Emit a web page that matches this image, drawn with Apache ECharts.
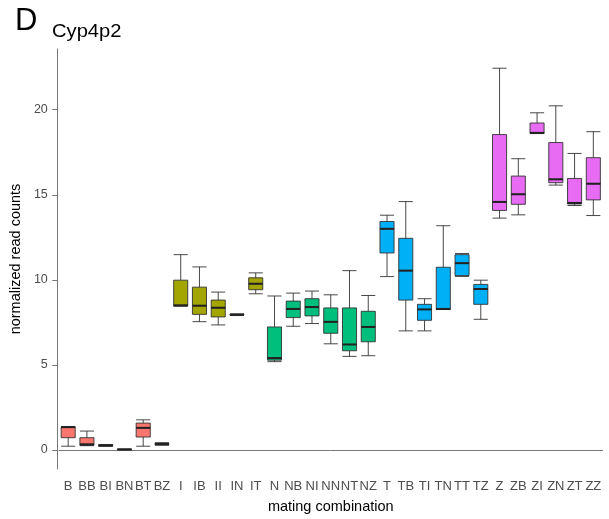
<!DOCTYPE html>
<html>
<head>
<meta charset="utf-8">
<script src="https://cdn.jsdelivr.net/npm/echarts@6/dist/echarts.min.js"></script>
<style>
html,body{margin:0;padding:0;background:#fff;}
#chart{width:609px;height:519px;}
</style>
</head>
<body>
<div id="chart"></div>
<script>
var categories = ['B','BB','BI','BN','BT','BZ','I','IB','II','IN','IT','N','NB','NI','NN','NT','NZ','T','TB','TI','TN','TT','TZ','Z','ZB','ZI','ZN','ZT','ZZ'];
var groups = ['B','B','B','B','B','B','I','I','I','I','I','N','N','N','N','N','N','T','T','T','T','T','T','Z','Z','Z','Z','Z','Z'];
var mins    = [0.22,0.25,0.22,0.00,0.22,0.27, 8.46,7.54,7.35,7.90,9.18, 5.19,7.27,7.43,6.24,5.50,5.54, 10.19,7.00,7.00,8.26,10.20,7.68, 13.63,13.82,18.60,15.57,14.37,13.78];
var q1s     = [0.72,0.27,0.22,0.02,0.76,0.33, 8.46,7.97,7.82,7.93,9.42, 5.28,7.78,7.88,6.86,5.83,6.36, 11.58,8.81,7.62,8.26,10.25,8.56, 14.08,14.44,18.60,15.71,14.46,14.70];
var medians = [1.34,0.33,0.27,0.03,1.30,0.35, 8.50,8.48,8.36,7.95,9.77, 5.40,8.29,8.40,7.53,6.20,7.23, 13.00,10.54,8.26,8.29,10.98,9.46, 14.58,15.03,18.64,15.91,14.52,15.65];
var q3s     = [1.34,0.72,0.31,0.04,1.58,0.37, 9.98,9.57,8.81,7.97,10.12, 7.23,8.75,8.89,8.35,8.35,8.15, 13.43,12.44,8.56,10.74,11.48,9.73, 18.54,16.10,19.22,18.07,15.96,17.18];
var maxs    = [1.38,1.11,0.31,0.05,1.77,0.43, 11.48,10.76,9.28,8.00,10.41, 9.05,9.22,9.34,9.12,10.54,9.08, 13.80,14.60,8.89,13.18,11.55,9.98, 22.44,17.12,19.82,20.23,17.43,18.71];
var yTicks = [0,5,10,15,20];
var groupColors = {B:'#F8766D', I:'#A3A500', N:'#00BF7D', T:'#00B0F6', Z:'#E76BF3'};

var boxData = categories.map(function(c,i){
  return {value:[mins[i],q1s[i],medians[i],q3s[i],maxs[i]], itemStyle:{color:groupColors[groups[i]]}};
});
var medData = categories.map(function(c,i){ return [i, medians[i]]; });

var chart = echarts.init(document.getElementById('chart'), null, {renderer:'canvas'});
chart.setOption({
  animation:false,
  backgroundColor:'#fff',
  grid:{left:54.5, right:6.3, top:49, bottom:48},
  graphic:[
    {type:'text', x:15, y:6, style:{text:'D', font:'31px "Liberation Sans", Arial, sans-serif', fill:'#000'}},
    {type:'text', x:52, y:23, scaleX:1.12, style:{text:'Cyp4p2', font:'18px "Liberation Sans", Arial, sans-serif', fill:'#000'}}
  ],
  xAxis:{
    type:'category', data:categories, boundaryGap:true,
    name:'mating combination', nameLocation:'middle', nameGap:30,
    nameTextStyle:{fontFamily:'Liberation Sans', fontSize:14.5, color:'#000'},
    axisLine:{lineStyle:{color:'#777', width:1}},
    axisTick:{alignWithLabel:true, length:5, lineStyle:{color:'#777'}},
    axisLabel:{interval:0, margin:11, fontFamily:'Liberation Sans', fontSize:13, color:'#4d4d4d'},
    splitLine:{show:false}
  },
  yAxis:{
    type:'value', min:-1.12, max:23.57, offset:1.5,
    name:'normalized read counts', nameLocation:'middle', nameGap:29,
    nameTextStyle:{fontFamily:'Liberation Sans', fontSize:14.5, color:'#000'},
    axisLine:{show:true, lineStyle:{color:'#777', width:1}},
    axisTick:{show:true, length:5, lineStyle:{color:'#777'}, customValues:yTicks},
    axisLabel:{margin:9.5, fontFamily:'Liberation Sans', fontSize:12.5, color:'#4d4d4d', customValues:yTicks},
    splitLine:{show:false}
  },
  series:[
    {type:'boxplot', data:boxData, boxWidth:['75%','75%'],
     itemStyle:{borderColor:'#333', borderWidth:0.9}},
    {type:'custom', data:medData, z:5,
     renderItem:function(params, api){
       var p = api.coord([api.value(0), api.value(1)]);
       var hw = api.size([1,0])[0]*0.75/2;
       return {type:'line', shape:{x1:p[0]-hw, y1:p[1], x2:p[0]+hw, y2:p[1]},
               style:{stroke:'#222', lineWidth:2}};
     }}
  ]
});
</script>
</body>
</html>
